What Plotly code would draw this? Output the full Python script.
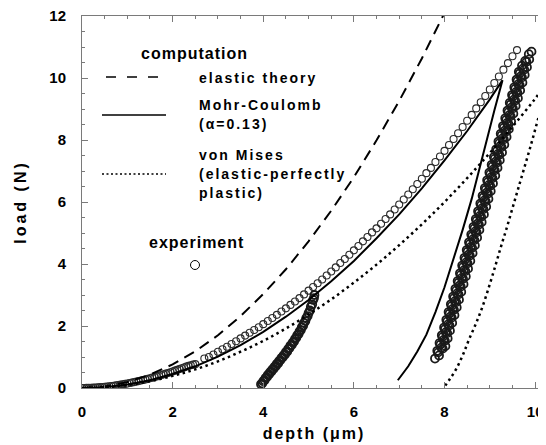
import plotly.graph_objects as go

# ---------------- data ----------------
# experiment: loading curve (open circles)
exp_load_depth = [0.0, 0.05, 0.1, 0.15, 0.2, 0.25, 0.3, 0.35, 0.4, 0.45, 0.5, 0.55, 0.6, 0.65,
                  0.7, 0.75, 0.8, 0.85, 0.9, 0.95, 1.0, 1.05, 1.1, 1.15, 1.2, 1.25, 1.3, 1.35,
                  1.4, 1.45, 1.5, 1.55, 1.6, 1.65, 1.7, 1.75, 1.8, 1.85, 1.9, 1.95, 2.0, 2.05,
                  2.1, 2.15, 2.2, 2.25, 2.3, 2.35, 2.4, 2.45, 2.5,
                  2.7, 2.8, 2.9, 3.0, 3.1, 3.2, 3.3, 3.4, 3.5, 3.6, 3.7, 3.8, 3.9, 4.0,
                  4.1, 4.2, 4.3, 4.4, 4.5, 4.6, 4.7, 4.8, 4.9, 5.0, 5.1, 5.2, 5.3, 5.4,
                  5.5, 5.6, 5.7, 5.8, 5.9, 6.0, 6.1, 6.2, 6.3, 6.4, 6.5, 6.6, 6.7, 6.8,
                  6.9, 7.0, 7.1, 7.2, 7.3, 7.4, 7.5, 7.6, 7.7, 7.8, 7.9, 8.0, 8.1, 8.2,
                  8.3, 8.4, 8.5, 8.6, 8.7, 8.8, 8.9, 9.0, 9.1, 9.2, 9.3, 9.4, 9.5, 9.6]
exp_load_load = [0.0, 0.001, 0.003, 0.005, 0.008, 0.012, 0.016, 0.021, 0.027, 0.033, 0.04, 0.048,
                 0.056, 0.065, 0.075, 0.085, 0.096, 0.108, 0.12, 0.133, 0.146, 0.16, 0.175, 0.19,
                 0.206, 0.223, 0.24, 0.258, 0.276, 0.295, 0.314, 0.334, 0.354, 0.375, 0.396,
                 0.418, 0.44, 0.463, 0.486, 0.51, 0.534, 0.559, 0.584, 0.61, 0.636, 0.663,
                 0.69, 0.713, 0.735, 0.753, 0.77,
                 0.95, 1.0, 1.08, 1.17, 1.25, 1.33, 1.42, 1.51, 1.6, 1.69, 1.78, 1.87, 1.96, 2.06,
                 2.16, 2.26, 2.36, 2.47, 2.57, 2.68, 2.79, 2.9, 3.02, 3.14, 3.26, 3.38, 3.5, 3.63,
                 3.76, 3.89, 4.03, 4.16, 4.3, 4.44, 4.58, 4.73, 4.87, 5.02, 5.15, 5.3, 5.45, 5.6,
                 5.76, 5.92, 6.08, 6.24, 6.41, 6.58, 6.75, 6.93, 7.1, 7.29, 7.47, 7.65, 7.84, 8.03,
                 8.22, 8.42, 8.62, 8.81, 9.02, 9.22, 9.42, 9.63, 9.84, 10.05, 10.27, 10.48, 10.7, 10.9]

# experiment: first unloading (from ~5.1 um), two close passes
exp_unl1_depth = [3.95, 4.0, 4.05, 4.1, 4.15, 4.2, 4.25, 4.3, 4.35, 4.4, 4.45, 4.5, 4.55, 4.6,
                  4.65, 4.7, 4.75, 4.8, 4.85, 4.9, 4.95, 5.0, 5.05, 5.1, 5.13]
exp_unl1_load = [0.12, 0.22, 0.32, 0.42, 0.51, 0.6, 0.69, 0.78, 0.87, 0.97, 1.06, 1.16, 1.26, 1.37,
                 1.47, 1.58, 1.7, 1.82, 1.96, 2.1, 2.26, 2.42, 2.62, 2.84, 3.0]
exp_unl2_depth = [3.98, 4.03, 4.08, 4.13, 4.18, 4.23, 4.28, 4.33, 4.38, 4.43, 4.48, 4.53, 4.58,
                  4.63, 4.68, 4.73, 4.78, 4.83, 4.88, 4.93, 4.98, 5.03, 5.08, 5.12]
exp_unl2_load = [0.15, 0.25, 0.35, 0.44, 0.53, 0.62, 0.71, 0.8, 0.9, 0.99, 1.08, 1.18, 1.29,
                 1.39, 1.5, 1.62, 1.74, 1.87, 2.01, 2.16, 2.32, 2.5, 2.7, 2.9]

# experiment: repeated unloading cycles from ~10 um (dense band)
exp_cycA_depth = [7.79, 7.84, 7.89, 7.94, 7.99, 8.04, 8.09, 8.14, 8.19, 8.24, 8.29, 8.34, 8.39,
                  8.44, 8.49, 8.54, 8.59, 8.64, 8.69, 8.74, 8.79, 8.84, 8.89, 8.94, 8.99, 9.04,
                  9.09, 9.14, 9.19, 9.24, 9.29, 9.34, 9.39, 9.44, 9.49, 9.54, 9.59, 9.64]
exp_cycA_load = [0.95, 1.2, 1.45, 1.7, 1.95, 2.2, 2.45, 2.7, 2.95, 3.2, 3.45, 3.7, 3.95, 4.2,
                 4.45, 4.7, 4.95, 5.2, 5.45, 5.7, 5.95, 6.2, 6.45, 6.7, 6.95, 7.2, 7.45, 7.7,
                 7.95, 8.2, 8.45, 8.7, 8.95, 9.2, 9.45, 9.7, 9.95, 10.2]
exp_cycD_depth = [7.86, 7.91, 7.96, 8.01, 8.06, 8.11, 8.16, 8.21, 8.26, 8.31, 8.36, 8.41, 8.46,
                  8.51, 8.56, 8.61, 8.66, 8.71, 8.76, 8.81, 8.86, 8.91, 8.96, 9.01, 9.06, 9.11,
                  9.16, 9.21, 9.26, 9.31, 9.36, 9.41, 9.46, 9.51, 9.56, 9.61, 9.66, 9.71]
exp_cycD_load = [1.15, 1.4, 1.65, 1.9, 2.15, 2.4, 2.65, 2.9, 3.15, 3.4, 3.65, 3.9, 4.15, 4.4,
                 4.65, 4.9, 5.15, 5.4, 5.65, 5.9, 6.15, 6.4, 6.65, 6.9, 7.15, 7.4, 7.65, 7.9,
                 8.15, 8.4, 8.65, 8.9, 9.15, 9.4, 9.65, 9.9, 10.15, 10.4]
exp_cycB_depth = [7.88, 7.93, 7.98, 8.03, 8.08, 8.13, 8.18, 8.23, 8.28, 8.33, 8.38, 8.43, 8.48,
                  8.53, 8.58, 8.63, 8.68, 8.73, 8.78, 8.83, 8.88, 8.93, 8.98, 9.03, 9.08, 9.13,
                  9.18, 9.23, 9.28, 9.33, 9.38, 9.43, 9.48, 9.53, 9.58, 9.63, 9.68, 9.73, 9.78]
exp_cycB_load = [1.05, 1.3, 1.55, 1.8, 2.05, 2.3, 2.55, 2.8, 3.05, 3.3, 3.55, 3.8, 4.05, 4.3,
                 4.55, 4.8, 5.05, 5.3, 5.55, 5.8, 6.05, 6.3, 6.55, 6.8, 7.05, 7.3, 7.55, 7.8,
                 8.05, 8.3, 8.55, 8.8, 9.05, 9.3, 9.55, 9.8, 10.05, 10.3, 10.55]
exp_cycE_depth = [7.96, 8.01, 8.06, 8.11, 8.16, 8.21, 8.26, 8.31, 8.36, 8.41, 8.46, 8.51, 8.56,
                  8.61, 8.66, 8.71, 8.76, 8.81, 8.86, 8.91, 8.96, 9.01, 9.06, 9.11, 9.16, 9.21,
                  9.26, 9.31, 9.36, 9.41, 9.46, 9.51, 9.56, 9.61, 9.66, 9.71, 9.76, 9.81, 9.86]
exp_cycE_load = [1.27, 1.52, 1.77, 2.02, 2.27, 2.52, 2.77, 3.02, 3.27, 3.52, 3.77, 4.02, 4.27,
                 4.52, 4.77, 5.02, 5.27, 5.52, 5.77, 6.02, 6.27, 6.52, 6.77, 7.02, 7.27, 7.52,
                 7.77, 8.02, 8.27, 8.52, 8.77, 9.02, 9.27, 9.52, 9.77, 10.02, 10.27, 10.52, 10.77]
exp_cycC_depth = [8.02, 8.07, 8.12, 8.17, 8.22, 8.27, 8.32, 8.37, 8.42, 8.47, 8.52, 8.57, 8.62,
                  8.67, 8.72, 8.77, 8.82, 8.87, 8.92, 8.97, 9.02, 9.07, 9.12, 9.17, 9.22, 9.27,
                  9.32, 9.37, 9.42, 9.47, 9.52, 9.57, 9.62, 9.67, 9.72, 9.77, 9.82, 9.87, 9.92]
exp_cycC_load = [1.35, 1.6, 1.85, 2.1, 2.35, 2.6, 2.85, 3.1, 3.35, 3.6, 3.85, 4.1, 4.35, 4.6,
                 4.85, 5.1, 5.35, 5.6, 5.85, 6.1, 6.35, 6.6, 6.85, 7.1, 7.35, 7.6, 7.85, 8.1,
                 8.35, 8.6, 8.85, 9.1, 9.35, 9.6, 9.85, 10.1, 10.35, 10.6, 10.85]

# computation: elastic theory (dashed)
elastic_depth = [0, 0.5, 1, 1.5, 2, 2.5, 3, 3.5, 4, 4.5, 5, 5.5, 6, 6.5, 7, 7.5, 8, 8.2]
elastic_load = [0, 0.05, 0.19, 0.43, 0.76, 1.18, 1.70, 2.32, 3.03, 3.83, 4.73, 5.72, 6.8, 7.99,
                9.26, 10.63, 12.1, 12.7]

# computation: Mohr-Coulomb (alpha=0.13) (solid): loading + unloading
mc_depth = [0, 0.5, 1, 1.5, 2, 2.5, 3, 3.5, 4, 4.5, 5, 5.5, 6, 6.5, 7, 7.5, 8, 8.5, 9, 9.28,
            9.1, 8.95, 8.8, 8.6, 8.4, 8.2, 8.0, 7.8, 7.6, 7.4, 7.2, 6.97]
mc_load = [0, 0.027, 0.11, 0.25, 0.45, 0.70, 1.01, 1.38, 1.81, 2.30, 2.84, 3.44, 4.1, 4.83,
           5.6, 6.44, 7.34, 8.29, 9.31, 9.93,
           8.95, 8.1, 7.2, 6.1, 5.1, 4.15, 3.25, 2.45, 1.72, 1.18, 0.7, 0.25]

# computation: von Mises (elastic-perfectly plastic) (dotted): loading + unloading
vm_depth = [0, 0.5, 1, 1.5, 2, 2.5, 3, 3.5, 4, 4.5, 5, 5.5, 6, 6.5, 7, 7.5, 8, 8.5, 9, 9.5,
            10, 10.35,
            10.1, 9.89, 9.69, 9.58, 9.47, 9.36, 9.25, 9.14, 9.0, 8.84, 8.7, 8.54, 8.4, 8.25,
            8.1, 7.98]
vm_load = [0, 0.025, 0.098, 0.22, 0.39, 0.60, 0.86, 1.17, 1.52, 1.92, 2.37, 2.86, 3.4, 3.98,
           4.61, 5.28, 6.0, 6.77, 7.58, 8.43, 9.33, 10.0,
           8.85, 7.75, 6.75, 6.2, 5.65, 5.1, 4.58, 4.03, 3.35, 2.63, 2.1, 1.56, 1.05, 0.59,
           0.25, 0.0]

x_ticks = [0, 2, 4, 6, 8, 10]
y_ticks = [0, 2, 4, 6, 8, 10, 12]

# ---------------- figure ----------------
# the page body has an 8px margin, so the figure is placed at (8, 8) in the window
OFF = 8
WIN_W, WIN_H = 546, 445
PLOT_L, PLOT_R, PLOT_T, PLOT_B = 82, 546, 16, 388   # plot area in window pixels
W, H = WIN_W - OFF, WIN_H - OFF
ML, MT = PLOT_L - OFF, PLOT_T - OFF
MR, MB = (OFF + W) - PLOT_R, (OFF + H) - PLOT_B
PW, PH = PLOT_R - PLOT_L, PLOT_B - PLOT_T


def px(x):
    return (x - PLOT_L) / PW


def py(y):
    return (PLOT_B - y) / PH


AX = "#7a7a7a"
MK = "#1a1a1a"
FONT = "Liberation Sans, Arial, sans-serif"


def spaced(s, sp):
    return '<span style="letter-spacing:%spx">%s</span>' % (sp, s)


fig = go.Figure()

load_marker = dict(symbol="circle-open", size=7, color="#2a2a2a", line=dict(width=1.1, color="#2a2a2a"))
dense_marker = dict(symbol="circle-open", size=8, color=MK, line=dict(width=1.8, color=MK))

fig.add_trace(go.Scatter(x=exp_load_depth, y=exp_load_load, mode="markers", marker=load_marker,
                         showlegend=False, hoverinfo="skip"))
for xs, ys in [(exp_unl1_depth, exp_unl1_load), (exp_unl2_depth, exp_unl2_load),
               (exp_cycA_depth, exp_cycA_load), (exp_cycD_depth, exp_cycD_load),
               (exp_cycB_depth, exp_cycB_load), (exp_cycE_depth, exp_cycE_load),
               (exp_cycC_depth, exp_cycC_load)]:
    fig.add_trace(go.Scatter(x=xs, y=ys, mode="markers", marker=dense_marker,
                             showlegend=False, hoverinfo="skip"))

fig.add_trace(go.Scatter(x=elastic_depth, y=elastic_load, mode="lines",
                         line=dict(color="black", width=2, dash="11px,7px"),
                         showlegend=False))
fig.add_trace(go.Scatter(x=mc_depth, y=mc_load, mode="lines",
                         line=dict(color="black", width=2),
                         showlegend=False))
fig.add_trace(go.Scatter(x=vm_depth, y=vm_load, mode="lines", line_shape="spline",
                         line=dict(color="black", width=2.5, dash="2.5px,3.5px"),
                         showlegend=False))

axis_common = dict(
    showline=True, linecolor=AX, linewidth=1, mirror="allticks",
    ticks="inside", ticklen=6, tickcolor=AX, tickwidth=1,
    showgrid=False, zeroline=False, ticklabeloverflow="allow",
    tickfont=dict(family=FONT, size=15, color="black", weight="bold"),
    minor=dict(ticks="inside", ticklen=3, tickcolor=AX, dtick=0.5, showgrid=False),
)

fig.update_xaxes(range=[0, 10.24], tickvals=x_ticks, ticktext=[str(v) for v in x_ticks],
                 ticklabelstandoff=10,
                 title=dict(text=spaced("depth (\u03bcm)", 2), standoff=8,
                            font=dict(family=FONT, size=16, color="black", weight="bold")),
                 automargin=False, **axis_common)
fig.update_yaxes(range=[0, 12], tickvals=y_ticks, ticktext=[str(v) for v in y_ticks],
                 ticklabelstandoff=12,
                 title=dict(text=spaced("load (N)", 3), standoff=18,
                            font=dict(family=FONT, size=16, color="black", weight="bold")),
                 automargin=False, **axis_common)


# legend block drawn as annotations + shapes
def text(s, x, y, size=14, anchor="left", sp=2):
    fig.add_annotation(text=spaced(s, sp), xref="paper", yref="paper", x=px(x), y=py(y),
                       xanchor=anchor, yanchor="middle", showarrow=False,
                       font=dict(family=FONT, size=size, color="black", weight="bold"))


text("computation", 194, 53, size=16, anchor="center", sp=1)
text("elastic theory", 197, 78)
text("Mohr-Coulomb", 197, 105)
text("(\u03b1=0.13)", 197, 124)
text("von Mises", 197, 155)
text("(elastic-perfectly", 197, 174)
text("plastic)", 197, 193)
text("experiment", 196, 242, size=16, anchor="center", sp=1)

fig.add_shape(type="line", xref="paper", yref="paper", x0=px(106), x1=px(160), y0=py(77), y1=py(77),
              line=dict(color="black", width=1.5, dash="10px,11px"))
fig.add_shape(type="line", xref="paper", yref="paper", x0=px(102), x1=px(166), y0=py(115), y1=py(115),
              line=dict(color="black", width=1.5))
fig.add_shape(type="line", xref="paper", yref="paper", x0=px(102), x1=px(166), y0=py(174), y1=py(174),
              line=dict(color="black", width=1.5, dash="2px,2.5px"))
fig.add_shape(type="circle", xref="paper", yref="paper", x0=px(190.5), x1=px(199.5),
              y0=py(269.5), y1=py(260.5), line=dict(color="black", width=1))

fig.update_layout(width=W, height=H, margin=dict(l=ML, r=MR, t=MT, b=MB),
                  plot_bgcolor="white", paper_bgcolor="white", showlegend=False,
                  font=dict(family=FONT))

fig.write_html("out.html")
